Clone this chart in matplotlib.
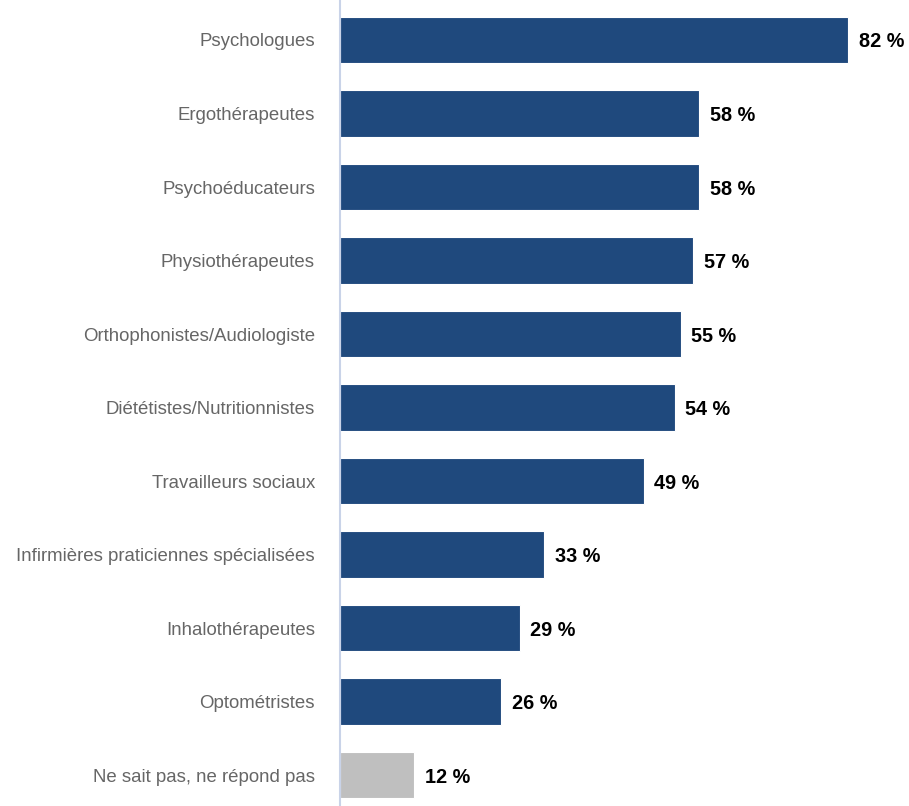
import matplotlib.pyplot as plt

# Professions and share of respondents (%)
professions = [
    'Psychologues',
    'Ergothérapeutes',
    'Psychoéducateurs',
    'Physiothérapeutes',
    'Orthophonistes/Audiologiste',
    'Diététistes/Nutritionnistes',
    'Travailleurs sociaux',
    'Infirmières praticiennes spécialisées',
    'Inhalothérapeutes',
    'Optométristes',
    'Ne sait pas, ne répond pas',
]
values = [82, 58, 58, 57, 55, 54, 49, 33, 29, 26, 12]
colors = ['#1f497d'] * 10 + ['#bfbfbf']

plt.rcParams['font.family'] = ['Liberation Sans', 'DejaVu Sans']

fig = plt.figure(figsize=(9.09, 8.06), dpi=100)
ax = fig.add_axes([340 / 909, 0, 569 / 909, 1])

pos = list(range(len(values)))
ax.barh(pos, values, height=0.63, color=colors, edgecolor='white', linewidth=0.8)

for y, v in zip(pos, values):
    ax.text(v + 1.7, y, f'{v} %', va='center_baseline', ha='left',
            fontsize=14.3, fontweight='bold', color='black')

ax.set_xlim(0, 91.85)
ax.set_ylim(10.42, -0.544)
ax.set_yticks(pos)
ax.set_yticklabels(professions, fontsize=13.4, color='#666666')
ax.tick_params(axis='y', length=0, pad=18)
ax.set_xticks([])

for side in ['top', 'right', 'bottom']:
    ax.spines[side].set_visible(False)
ax.spines['left'].set_color('#c9d3e8')
ax.spines['left'].set_linewidth(1.5)

fig.savefig('out.png', dpi=100)
